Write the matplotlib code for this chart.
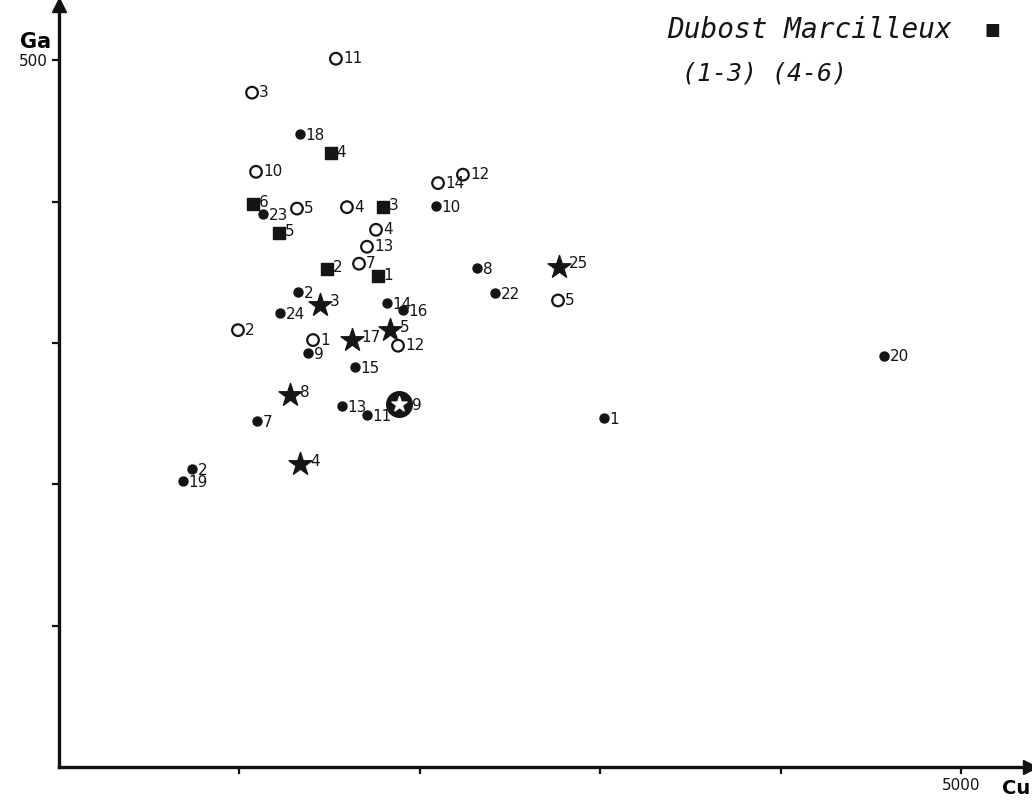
import matplotlib
matplotlib.use("Agg")
import matplotlib.pyplot as plt

# ---- data (Cu, Ga) ----
open_labels = ["11", "3", "10", "5", "4", "4", "13", "7", "14", "12", "2", "1", "12", "5"]
open_cu = [1535, 1070, 1092, 1319, 1596, 1757, 1707, 1663, 2101, 2239, 992, 1408, 1879, 2766]
open_ga = [501, 477, 421, 395, 396, 380, 368, 356, 413, 419, 309, 302, 298, 330]

filled_labels = ["18", "23", "10", "8", "22", "2", "24", "14", "16", "9", "15", "13", "11", "7", "1", "20", "2", "19"]
filled_cu = [1336, 1131, 2090, 2317, 2417, 1325, 1225, 1818, 1907, 1380, 1641, 1569, 1707, 1098, 3021, 4573, 737, 687]
filled_ga = [448, 391, 397, 353, 335, 336, 321, 328, 323, 293, 283, 255, 249, 245, 247, 291, 211, 202]

square_labels = ["4", "6", "3", "5", "2", "1"]
square_cu = [1508, 1075, 1796, 1220, 1486, 1768]
square_ga = [434, 398, 396, 378, 352, 347]

star_labels = ["25", "3", "17", "5", "8", "4"]
star_cu = [2772, 1447, 1624, 1835, 1280, 1336]
star_ga = [354, 327, 302, 309, 263, 214]

ring_labels = ["9"]
ring_cu = [1885]
ring_ga = [257]

x_ticks = [1000, 2000, 3000, 4000, 5000]
y_ticks = [100, 200, 300, 400, 500]

# ---- figure ----
fig = plt.figure(figsize=(10.32, 8.05), dpi=100)
ax = fig.add_axes([59 / 1032, 38 / 805, 971 / 1032, 762 / 805])
ax.set_xlim(0, 5382)
ax.set_ylim(0, 539)
ax.patch.set_alpha(0)
for s in ["top", "right"]:
    ax.spines[s].set_visible(False)
for s in ["left", "bottom"]:
    ax.spines[s].set_linewidth(2.4)
    ax.spines[s].set_color("#111111")

ax.set_xticks(x_ticks)
ax.set_yticks(y_ticks)
ax.set_xticklabels([""] * 4 + ["5000"])
ax.set_yticklabels([""] * 4 + ["500"])
ax.tick_params(axis="both", direction="out", length=5, width=1.6, colors="#111111",
               labelsize=11)
ax.tick_params(axis="x", pad=3)
ax.tick_params(axis="y", pad=3)

# arrow heads
ax.plot([1], [0], marker=">", markersize=10, color="#111111", transform=ax.transAxes, clip_on=False)
ax.plot([0], [1], marker="^", markersize=10, color="#111111", transform=ax.transAxes, clip_on=False)

# axis names
fig.text(20 / 1032, 1 - 42 / 805, "Ga", fontsize=15, fontweight="bold", ha="left", va="center",
         family="DejaVu Sans")
fig.text(1030 / 1032, 1 - 788 / 805, "Cu", fontsize=14, fontweight="bold", ha="right", va="center",
         family="DejaVu Sans")

ink = "#151515"
lab_kw = dict(fontsize=11, color=ink, va="center", ha="left", textcoords="offset points")

# open circles
ax.scatter(open_cu, open_ga, s=70, facecolors="none", edgecolors=ink, linewidths=1.6, zorder=3)
for l, x, y in zip(open_labels, open_cu, open_ga):
    ax.annotate(l, (x, y), xytext=(5, 0), **lab_kw)

# filled circles
ax.scatter(filled_cu, filled_ga, s=42, color=ink, zorder=3)
for l, x, y in zip(filled_labels, filled_cu, filled_ga):
    ax.annotate(l, (x, y), xytext=(4, -1), **lab_kw)

# squares
ax.scatter(square_cu, square_ga, s=85, marker="s", color=ink, zorder=3)
for l, x, y in zip(square_labels, square_cu, square_ga):
    ax.annotate(l, (x, y), xytext=(4, 1), **lab_kw)

# stars
ax.scatter(star_cu, star_ga, s=300, marker="*", color=ink, zorder=3)
for l, x, y in zip(star_labels, star_cu, star_ga):
    ax.annotate(l, (x, y), xytext=(7, 2), **lab_kw)

# circled star
ax.scatter(ring_cu, ring_ga, s=340, marker="o", color=ink, zorder=3)
ax.scatter(ring_cu, ring_ga, s=130, marker="*", color="white", zorder=4)
for l, x, y in zip(ring_labels, ring_cu, ring_ga):
    ax.annotate(l, (x, y), xytext=(9, -1), **lab_kw)

# legend-like annotation
fig.text(667 / 1032, 1 - 30 / 805, "Dubost Marcilleux", fontsize=20, style="italic",
         family="DejaVu Sans Mono", color=ink, ha="left", va="center")
fig.text(984 / 1032, 1 - 30 / 805, "■", fontsize=12, color=ink, ha="left", va="center",
         family="DejaVu Sans")
fig.text(682 / 1032, 1 - 74 / 805, "(1-3) (4-6)", fontsize=18, style="italic",
         family="DejaVu Sans Mono", color=ink, ha="left", va="center")

fig.savefig("out.png", dpi=100)
